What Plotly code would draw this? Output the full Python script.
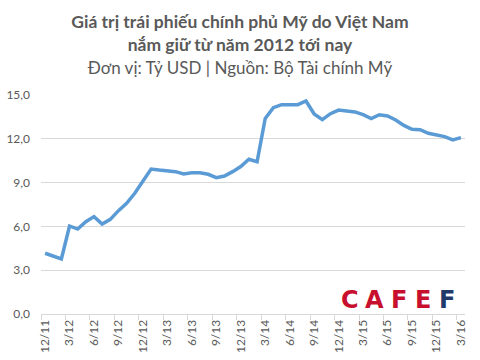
import plotly.graph_objects as go

months = [
    "12/11", "1/12", "2/12", "3/12", "4/12", "5/12", "6/12", "7/12", "8/12", "9/12", "10/12", "11/12",
    "12/12", "1/13", "2/13", "3/13", "4/13", "5/13", "6/13", "7/13", "8/13", "9/13", "10/13", "11/13",
    "12/13", "1/14", "2/14", "3/14", "4/14", "5/14", "6/14", "7/14", "8/14", "9/14", "10/14", "11/14",
    "12/14", "1/15", "2/15", "3/15", "4/15", "5/15", "6/15", "7/15", "8/15", "9/15", "10/15", "11/15",
    "12/15", "1/16", "2/16", "3/16",
]
values = [
    4.16, 3.97, 3.77, 6.03, 5.82, 6.32, 6.67, 6.16, 6.48, 7.08, 7.58, 8.27,
    9.13, 9.93, 9.86, 9.82, 9.75, 9.59, 9.68, 9.68, 9.57, 9.34, 9.45, 9.75,
    10.10, 10.60, 10.43, 13.40, 14.13, 14.34, 14.34, 14.34, 14.59, 13.70, 13.31, 13.72,
    13.97, 13.90, 13.84, 13.65, 13.38, 13.65, 13.56, 13.29, 12.92, 12.65, 12.62, 12.38,
    12.24, 12.15, 11.92, 12.08,
]
label_step = 3

idx = list(range(len(months)))
tick_idx = idx[::label_step]
tick_text = [months[i] for i in tick_idx]

fig = go.Figure()
fig.add_trace(go.Scatter(
    x=idx, y=values, mode="lines",
    line=dict(color="#5B9BD5", width=3.5),
    hoverinfo="skip",
))

gray = "#595959"
grid = "#d9d9d9"
fam = "Lato, 'Noto Sans', sans-serif"

fig.update_layout(
    width=480, height=360,
    margin=dict(l=41, r=15, t=95, b=46, autoexpand=False),
    paper_bgcolor="white", plot_bgcolor="white",
    showlegend=False,
    separators=",.",
    font=dict(family=fam, color=gray),
    title=dict(
        text=("<b>Giá trị trái phiếu chính phủ Mỹ do Việt Nam<br>nắm giữ từ năm 2012 tới nay</b><br>"
              "<span style='font-size:17px'>Đơn vị: Tỷ USD | Nguồn: Bộ Tài chính Mỹ</span>"),
        x=0.5, xanchor="center", xref="container",
        y=1 - 28 / 360, yanchor="top", yref="container",
        font=dict(size=17.5, color=gray, family=fam),
        automargin=False,
    ),
    xaxis=dict(
        range=[-0.5, len(months) - 0.5],
        tickmode="array", tickvals=tick_idx, ticktext=tick_text,
        tickangle=-90, ticks="",
        tickfont=dict(size=12, color=gray),
        showgrid=False, zeroline=False,
        showline=True, linecolor=grid, linewidth=1,
        minor=dict(ticks="outside", tickmode="linear", tick0=-0.5, dtick=label_step,
                   ticklen=5, tickcolor=grid, showgrid=False),
        automargin=False,
        fixedrange=True,
    ),
    yaxis=dict(
        range=[0, 15], tickmode="linear", tick0=0, dtick=3,
        tickformat=".1f",
        tickfont=dict(size=12, color=gray),
        showgrid=True, gridcolor=grid, gridwidth=1,
        zeroline=False, showline=False, ticks="",
        ticklabelstandoff=10,
        automargin=False,
        fixedrange=True,
    ),
)

# CAFEF logo
logo_letters = ["C", "A", "F", "E", "F"]
logo_colors = ["#C8102E", "#C8102E", "#C8102E", "#C8102E", "#1F3A6B"]
plot_l, plot_w, plot_b, plot_h = 41, 424, 314, 219
for k, (ch, col) in enumerate(zip(logo_letters, logo_colors)):
    px = 350.4 + k * 24.2
    fig.add_annotation(
        text="<b>" + ch + "</b>", showarrow=False,
        xref="paper", yref="paper",
        x=(px - plot_l) / plot_w, y=(plot_b - 300) / plot_h,
        xanchor="center", yanchor="middle",
        font=dict(size=24, color=col, family="DejaVu Sans"),
    )

fig.write_html("out.html", config={"displayModeBar": False},
               post_script="document.body.style.margin='0';")
